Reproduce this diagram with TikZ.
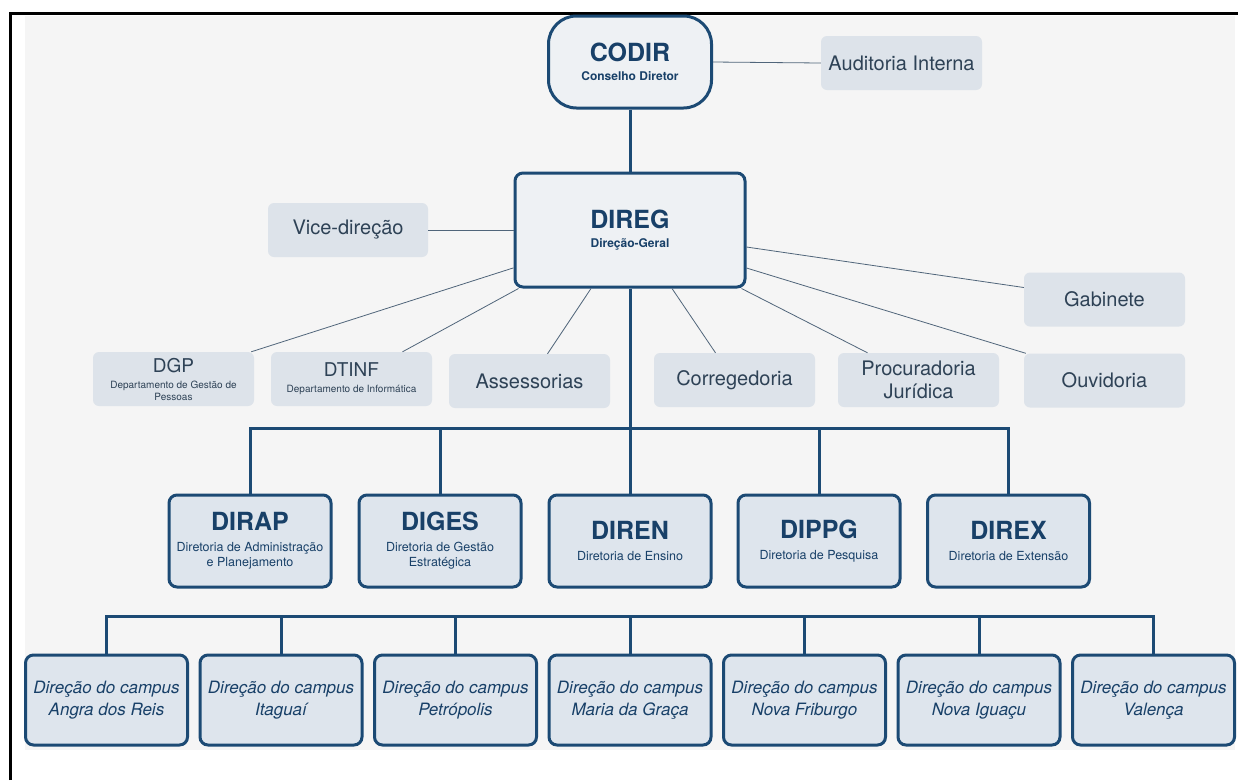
\documentclass[tikz,border=0pt]{standalone}
\usepackage{fontspec}
\setmainfont{TeX Gyre Heros}
\definecolor{navy}{RGB}{28,74,116}
\definecolor{titleblue}{RGB}{24,64,104}
\definecolor{boxfill}{RGB}{222,229,237}
\definecolor{topfill}{RGB}{238,241,244}
\definecolor{greyfill}{RGB}{221,227,234}
\definecolor{greytext}{RGB}{46,66,86}
\definecolor{linegrey}{RGB}{80,101,122}
\definecolor{pagebg}{RGB}{245,245,245}
\newcommand\bigtitle{\fontsize{25}{26}\selectfont\bfseries}
\newcommand\topsub{\fontsize{12}{16}\selectfont\bfseries}
\newcommand\dirsub{\fontsize{12.5}{15}\selectfont}
\newcommand\greyfont{\fontsize{20}{23}\selectfont}
\newcommand\smallgrey{\fontsize{10}{12}\selectfont}
\newcommand\campfont{\fontsize{17}{22}\selectfont\itshape}
\tikzset{
  mainbox/.style={draw=navy, line width=3pt, fill=boxfill, rounded corners=8pt,
    inner sep=0pt, align=center, text=titleblue},
  topbox/.style={mainbox, fill=topfill, font=\topsub},
  dirbox/.style={mainbox, minimum width=162pt, minimum height=92pt, font=\dirsub},
  campbox/.style={mainbox, minimum width=162pt, minimum height=90pt, font=\campfont},
  greybox/.style={fill=greyfill, rounded corners=6pt, minimum width=161pt,
    minimum height=54pt, inner sep=0pt, align=center, text=greytext, font=\greyfont},
  thinline/.style={draw=linegrey, line width=0.8pt},
  busline/.style={draw=navy, line width=3pt}
}
\begin{document}
\begin{tikzpicture}[x=1pt,y=-1pt]
\useasboundingbox (0,0) rectangle (1238,780);
\fill[pagebg] (25,16) rectangle (1235,750);
\draw[line width=3pt] (10.5,780) -- (10.5,13) -- (1238,13);

% conselho e direcao geral
\node[topbox, minimum width=163pt, minimum height=92pt, rounded corners=28pt] (codir) at (630,62)
  {\bigtitle CODIR\\[3pt] \topsub Conselho Diretor};
\node[greybox] (audit) at (901.5,63) {Auditoria Interna};
\node[topbox, minimum width=230pt, minimum height=114pt] (direg) at (630,230)
  {\bigtitle DIREG\\[3pt] \topsub Direção-Geral};
\node[greybox, minimum width=160pt] (vice) at (348,230) {Vice-direção};
\node[greybox] (gabinete) at (1104.5,299.5) {Gabinete};

% orgaos de apoio
\node[greybox, font=\smallgrey] (dgp) at (173.5,379)
  {\fontsize{19}{20}\selectfont DGP\\[4pt] \smallgrey Departamento de Gestão de\\ Pessoas};
\node[greybox, font=\smallgrey] (dtinf) at (351.5,379)
  {\fontsize{19}{20}\selectfont DTINF\\[4pt] \smallgrey Departamento de Informática};
\node[greybox] (assess) at (529.5,381) {Assessorias};
\node[greybox] (correg) at (734.5,380) {Corregedoria};
\node[greybox] (procur) at (918.5,380) {Procuradoria\\Jurídica};
\node[greybox] (ouvid) at (1104.5,380.5) {Ouvidoria};

\draw[thinline] (codir.east) -- (audit.west);
\draw[thinline] (direg.west) -- (vice.east);
\draw[thinline] (direg.198) -- ([xshift=-3pt]dgp.north east);
\draw[thinline] ([xshift=5pt]direg.south west) -- ([xshift=51pt]dtinf.north);
\draw[thinline] ([xshift=-39pt]direg.south) -- ([xshift=18pt]assess.north);
\draw[thinline] ([xshift=42pt]direg.south) -- ([xshift=-19pt]correg.north);
\draw[thinline] ([xshift=-5pt]direg.south east) -- ([xshift=-51pt]procur.north);
\draw[thinline] ([yshift=-38pt]direg.east) -- ([xshift=2pt]ouvid.north west);
\draw[thinline] ([yshift=-17pt]direg.east) -- ([yshift=12pt]gabinete.west);
\draw[busline] (codir.south) -- (direg.north);

% diretorias sistemicas
\node[dirbox] (dirap) at (250,541) {\bigtitle DIRAP\\[6pt] \dirsub Diretoria de Administração\\ e Planejamento};
\node[dirbox] (diges) at (440,541) {\bigtitle DIGES\\[6pt] \dirsub Diretoria de Gestão\\ Estratégica};
\node[dirbox] (diren) at (630,541) {\bigtitle DIREN\\[6pt] \dirsub Diretoria de Ensino};
\node[dirbox] (dippg) at (819,541) {\bigtitle DIPPG\\[6pt] \dirsub Diretoria de Pesquisa};
\node[dirbox] (direx) at (1008.5,541) {\bigtitle DIREX\\[6pt] \dirsub Diretoria de Extensão};

\coordinate (dirbus) at (630,428);
\draw[busline] (direg.south) -- (diren.north);
\draw[busline] (dirap.north) |- (direx.north |- dirbus) -- (direx.north);
\draw[busline] (diges.north) -- (diges.north |- dirbus);
\draw[busline] (dippg.north) -- (dippg.north |- dirbus);

% campi
\node[campbox] (angra) at (106.5,700) {Direção do campus\\Angra dos Reis};
\node[campbox] (itaguai) at (281,700) {Direção do campus\\Itaguaí};
\node[campbox] (petro) at (455.5,700) {Direção do campus\\Petrópolis};
\node[campbox] (maria) at (630,700) {Direção do campus\\Maria da Graça};
\node[campbox] (friburgo) at (804.5,700) {Direção do campus\\Nova Friburgo};
\node[campbox] (iguacu) at (979,700) {Direção do campus\\Nova Iguaçu};
\node[campbox] (valenca) at (1153.5,700) {Direção do campus\\Valença};

\coordinate (campbus) at (630,616);
\draw[busline] (angra.north) |- (valenca.north |- campbus) -- (valenca.north);
\foreach \c in {itaguai,petro,maria,friburgo,iguacu}
  \draw[busline] (\c.north) -- (\c.north |- campbus);
\end{tikzpicture}
\end{document}
